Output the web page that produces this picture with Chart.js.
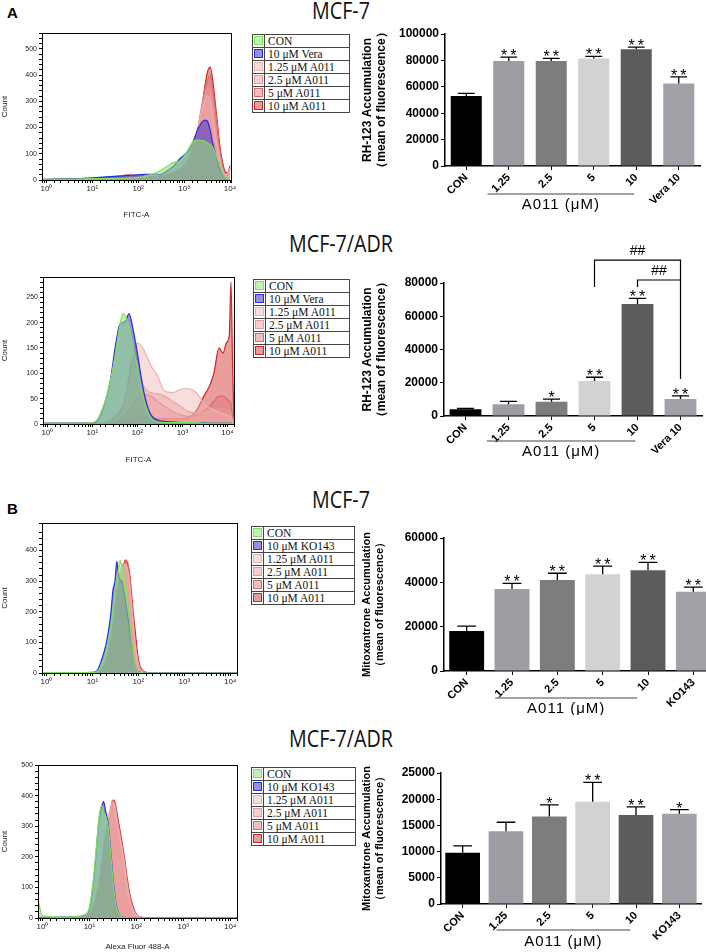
<!DOCTYPE html>
<html>
<head>
<meta charset="utf-8">
<script src="https://cdn.jsdelivr.net/npm/chart.js@4.4.1/dist/chart.umd.min.js"></script>
<style>
  html, body { margin:0; padding:0; background:#fff; }
  body { position:relative; width:706px; height:952px; overflow:hidden; font-family:Arial, "Liberation Sans", sans-serif; }
  canvas, .lbl, .ttl, .legend { position:absolute; }
  .lbl { font:bold 15px Arial, "Liberation Sans", sans-serif; line-height:15px; left:7px; }
  .ttl { left:0; width:682px; text-align:center; font-family:"Open Sans", sans-serif; font-size:24px; line-height:24px; color:#111; transform:scaleX(0.82); transform-origin:341px 0; }
  .legend { border:1px solid #444; font-family:"Liberation Serif", "Times New Roman", serif; font-size:11.5px; color:#111; background:#fff; }
  .legend .row { display:flex; height:12px; line-height:12px; border-top:1px solid #444; }
  .legend .row:first-child { border-top:none; }
  .legend .sw { width:11px; flex:none; border-right:1px solid #444; position:relative; }
  .legend .sw span { position:absolute; left:1px; top:1px; width:7px; height:7px; border:1px solid; }
  .legend .tx { padding-left:3px; white-space:nowrap; }
</style>
</head>
<body>
<div class="lbl" style="top:5px">A</div>
<div class="lbl" style="top:501px">B</div>
<div class="ttl" style="top:-2px">MCF-7</div>
<div class="ttl" style="top:231px">MCF-7/ADR</div>
<div class="ttl" style="top:487px">MCF-7</div>
<div class="ttl" style="top:726px">MCF-7/ADR</div>

<canvas id="h1" width="245" height="195" style="left:0;top:25px"></canvas>
<canvas id="h2" width="245" height="200" style="left:0;top:265px"></canvas>
<canvas id="h3" width="245" height="190" style="left:0;top:510px"></canvas>
<canvas id="h4" width="245" height="197" style="left:0;top:755px"></canvas>

<div class="legend" id="l1" style="left:252px;top:34px;width:96px"></div>
<div class="legend" id="l2" style="left:253px;top:279px;width:95px"></div>
<div class="legend" id="l3" style="left:251px;top:526px;width:102px"></div>
<div class="legend" id="l4" style="left:251px;top:767px;width:103px"></div>

<canvas id="b1" width="356" height="200" style="left:350px;top:20px"></canvas>
<canvas id="b2" width="356" height="225" style="left:350px;top:240px"></canvas>
<canvas id="b3" width="370" height="235" style="left:350px;top:480px"></canvas>
<canvas id="b4" width="356" height="232" style="left:350px;top:720px"></canvas>

<script>
// ---------- histogram data (counts) ----------
var histTickValues = [1, 10, 100, 1000, 10000];
var histTickLabels = ['10⁰', '10¹', '10²', '10³', '10⁴'];

var namesA = ['CON', '10 μM Vera', '1.25 μM A011', '2.5 μM A011', '5 μM A011', '10 μM A011'];
var namesB = ['CON', '10 μM KO143', '1.25 μM A011', '2.5 μM A011', '5 μM A011', '10 μM A011'];

// MCF-7, RH-123
var fluor1 = [0.8, 2, 5, 10, 20, 40, 70, 100, 150, 200, 300, 450, 600, 800, 1000, 1300, 1600, 2000, 2400, 2800, 3200, 3700, 4200, 5000, 6000, 7000, 8000, 9000, 10000];
var h1Con  = [3, 3, 4, 5, 5, 6, 8, 10, 15, 22, 35, 55, 68, 72, 90, 125, 148, 152, 150, 148, 140, 135, 125, 95, 55, 25, 8, 3, 0];
var h1Vera = [2, 4, 5, 8, 12, 15, 18, 20, 22, 22, 22, 38, 55, 80, 95, 115, 150, 195, 218, 228, 225, 190, 140, 90, 40, 18, 5, 2, 0];
var h1A125 = [0, 3, 4, 5, 8, 14, 20, 16, 12, 12, 14, 20, 28, 40, 55, 80, 120, 190, 260, 300, 320, 300, 240, 150, 70, 30, 20, 25, 40];
var h1A25  = [0, 3, 4, 5, 8, 15, 22, 18, 13, 12, 14, 20, 28, 40, 55, 82, 125, 195, 270, 320, 350, 340, 280, 180, 85, 35, 22, 25, 45];
var h1A5   = [0, 3, 4, 5, 9, 15, 22, 18, 13, 12, 14, 20, 28, 40, 55, 85, 130, 200, 280, 340, 380, 400, 350, 240, 120, 50, 25, 24, 45];
var h1A10  = [0, 3, 4, 5, 9, 15, 20, 16, 12, 12, 14, 20, 28, 40, 50, 75, 120, 180, 260, 350, 410, 430, 380, 260, 130, 60, 30, 28, 55];

// MCF-7/ADR, RH-123
var fluor2 = [0.8, 3, 8, 12, 18, 25, 32, 40, 48, 56, 65, 75, 85, 100, 120, 150, 200, 280, 400, 600, 900, 1300, 2000, 3000, 4000, 5000, 6500, 8000, 9500, 11000, 12000, 13000, 14000];
var h2Con  = [2, 2, 2, 6, 38, 85, 135, 190, 218, 210, 195, 165, 140, 113, 75, 38, 12, 4, 3, 3, 3, 3, 3, 2, 2, 2, 2, 2, 2, 2, 2, 1, 0];
var h2Vera = [2, 2, 2, 3, 35, 85, 150, 195, 200, 205, 218, 200, 175, 140, 95, 50, 18, 8, 5, 4, 3, 3, 3, 3, 2, 2, 2, 2, 2, 2, 2, 1, 0];
var h2A125 = [0, 0, 0, 1, 3, 8, 15, 25, 40, 60, 85, 115, 145, 160, 155, 140, 115, 95, 65, 62, 68, 70, 62, 42, 32, 28, 24, 20, 18, 16, 12, 5, 0];
var h2A25  = [0, 0, 0, 1, 3, 6, 12, 20, 35, 60, 95, 125, 130, 110, 85, 70, 62, 60, 55, 45, 35, 25, 22, 22, 25, 28, 30, 30, 28, 25, 20, 8, 0];
var h2A5   = [0, 0, 0, 0, 1, 2, 4, 8, 14, 20, 28, 35, 42, 50, 55, 58, 55, 45, 35, 25, 18, 15, 18, 25, 35, 45, 55, 55, 50, 45, 40, 15, 0];
var h2A10  = [0, 0, 0, 0, 0, 1, 2, 3, 5, 7, 9, 10, 12, 14, 15, 14, 12, 10, 10, 10, 10, 12, 25, 55, 75, 100, 150, 140, 160, 175, 280, 120, 0];

// MCF-7, mitoxantrone
var fluor3 = [0.8, 5, 10, 12, 14, 16, 18, 20, 22, 25, 28, 31, 34, 37, 40, 44, 48, 53, 58, 64, 70, 77, 85, 95, 105, 120, 140, 200, 1000, 14000];
var h3Con  = [1, 1, 1, 3, 12, 30, 50, 75, 105, 150, 210, 270, 310, 340, 368, 350, 330, 290, 240, 180, 120, 65, 25, 8, 3, 1, 0, 0, 0, 0];
var h3KO   = [1, 1, 2, 5, 20, 45, 70, 96, 130, 190, 270, 300, 365, 320, 305, 300, 270, 230, 190, 150, 100, 55, 22, 8, 3, 1, 0, 0, 0, 0];
var h3A125 = [0, 0, 1, 2, 6, 15, 28, 45, 70, 110, 160, 220, 265, 300, 330, 345, 350, 355, 340, 300, 230, 160, 90, 40, 15, 5, 1, 0, 0, 0];
var h3A25  = [0, 0, 1, 2, 5, 13, 25, 42, 65, 100, 150, 205, 255, 295, 325, 345, 360, 350, 330, 290, 230, 165, 95, 45, 18, 6, 1, 0, 0, 0];
var h3A5   = [0, 0, 0, 1, 4, 11, 22, 38, 60, 95, 140, 195, 245, 285, 320, 340, 350, 360, 365, 320, 250, 180, 110, 55, 20, 7, 2, 0, 0, 0];
var h3A10  = [0, 0, 0, 1, 4, 10, 20, 35, 55, 90, 135, 190, 240, 280, 315, 340, 355, 370, 355, 330, 270, 200, 140, 70, 30, 10, 3, 0, 0, 0];

// MCF-7/ADR, mitoxantrone
var fluor4 = [0.8, 1, 3, 6, 8, 10, 12, 14, 16, 18, 20, 22, 25, 28, 31, 34, 37, 41, 45, 50, 56, 63, 72, 85, 100, 120, 200, 1000, 14000];
var h4Con  = [60, 8, 3, 5, 10, 35, 120, 230, 330, 370, 345, 335, 300, 220, 140, 80, 40, 18, 8, 4, 2, 1, 0, 0, 0, 0, 0, 0, 0];
var h4KO   = [2, 2, 3, 5, 10, 30, 110, 220, 320, 360, 380, 350, 310, 230, 150, 90, 45, 20, 8, 4, 2, 1, 0, 0, 0, 0, 0, 0, 0];
var h4A125 = [0, 0, 1, 3, 6, 12, 35, 70, 120, 170, 230, 270, 320, 360, 375, 370, 330, 290, 260, 220, 170, 110, 60, 25, 8, 3, 0, 0, 0];
var h4A25  = [0, 0, 1, 3, 6, 12, 30, 65, 110, 160, 220, 265, 315, 355, 380, 375, 340, 300, 265, 225, 175, 115, 65, 28, 9, 3, 0, 0, 0];
var h4A5   = [0, 0, 1, 2, 5, 10, 28, 60, 100, 150, 210, 255, 305, 350, 385, 380, 350, 310, 275, 235, 185, 125, 72, 32, 10, 3, 0, 0, 0];
var h4A10  = [0, 0, 1, 2, 5, 10, 25, 55, 95, 140, 200, 245, 300, 345, 375, 385, 360, 320, 285, 245, 195, 135, 80, 38, 12, 4, 0, 0, 0];

// ---------- bar chart data ----------
var barLabelsA = ['CON', '1.25', '2.5', '5', '10', 'Vera 10'];
var barLabelsB = ['CON', '1.25', '2.5', '5', '10', 'KO143'];
var barColors  = ['#000000', '#9d9da3', '#7d7d7f', '#d2d2d2', '#5c5c5e', '#a1a1a8'];

var rh7Mean   = [53000, 79500, 79500, 81500, 88500, 62500];
var rh7Err    = [2000, 3000, 2000, 1500, 1500, 5000];
var rh7Stars  = ['', '**', '**', '**', '**', '**'];

var rhAdrMean  = [4000, 7000, 8600, 21000, 67400, 10200];
var rhAdrErr   = [500, 1800, 1600, 2300, 3400, 1900];
var rhAdrStars = ['', '', '*', '**', '**', '**'];

var mx7Mean   = [18000, 37000, 41100, 43700, 45500, 35700];
var mx7Err    = [2200, 2500, 3000, 3600, 3500, 2100];
var mx7Stars  = ['', '**', '**', '**', '**', '**'];

var mxAdrMean  = [9800, 13900, 16700, 19500, 17000, 17200];
var mxAdrErr   = [1300, 1700, 2200, 3700, 1550, 800];
var mxAdrStars = ['', '', '*', '**', '**', '*'];

// comparison brackets (MCF-7/ADR, RH-123): from bar, to bar, level, left drop, right drop
var bracketFrom  = [3, 4];
var bracketTo    = [5, 5];
var bracketLevel = [93800, 81800];
var bracketLeft  = [77600, 77600];
var bracketRight = [22250, 81800];
var bracketText  = ['##', '##'];

// ---------- styles ----------
var histFill = ['rgba(140,232,118,0.55)', 'rgba(70,50,205,0.55)', 'rgba(240,180,180,0.45)', 'rgba(232,148,148,0.45)', 'rgba(224,112,112,0.45)', 'rgba(212,60,60,0.50)'];
var histLine = ['#80e05c', '#2b2be0', '#eeb0b0', '#e49a9a', '#d86c6c', '#d42222'];

function makeLegend(id, names) {
  var el = document.getElementById(id);
  names.forEach(function (n, i) {
    var row = document.createElement('div');
    row.className = 'row';
    row.innerHTML = '<div class="sw"><span style="background:' + histFill[i] + ';border-color:' + histLine[i] + '"></span></div><div class="tx">' + n + '</div>';
    el.appendChild(row);
  });
}
makeLegend('l1', namesA);
makeLegend('l2', namesA);
makeLegend('l3', namesB);
makeLegend('l4', namesB);

var frame = {
  id: 'frame',
  afterDraw: function (chart) {
    var a = chart.chartArea, ctx = chart.ctx;
    ctx.save();
    ctx.strokeStyle = '#000';
    ctx.lineWidth = 1;
    ctx.strokeRect(a.left + 0.5, a.top + 0.5, a.right - a.left, a.bottom - a.top);
    ctx.restore();
  }
};

function histChart(id, grid, counts, names, yMax, labelStep, minorStep, xMax, xTitle, yWidth, xHeight, pad) {
  return new Chart(document.getElementById(id), {
    type: 'line',
    data: {
      datasets: counts.map(function (c, i) {
        return {
          label: names[i],
          data: grid.map(function (g, k) { return { x: g, y: c[k] }; }),
          fill: 'origin',
          backgroundColor: histFill[i],
          borderColor: histLine[i],
          borderWidth: 1.2,
          pointRadius: 0,
          cubicInterpolationMode: 'monotone',
          order: i
        };
      })
    },
    options: {
      responsive: false,
      animation: false,
      layout: { padding: pad },
      plugins: { legend: { display: false }, tooltip: { enabled: false } },
      scales: {
        x: {
          type: 'logarithmic', min: 0.8, max: xMax,
          afterFit: function (s) { s.height = xHeight; },
          border: { color: '#000', width: 1 },
          grid: { drawOnChartArea: false, drawTicks: true, tickLength: 3, color: '#000' },
          ticks: {
            autoSkip: false, maxRotation: 0, padding: 1, color: '#222', font: { size: 8 },
            callback: function (v) {
              var k = histTickValues.findIndex(function (t) { return Math.abs(t - v) < t * 1e-6; });
              return k >= 0 ? histTickLabels[k] : '';
            }
          },
          title: { display: !!xTitle, text: xTitle, color: '#222', font: { size: 8 }, padding: 0 }
        },
        y: {
          min: 0, max: yMax,
          afterFit: function (s) { s.width = yWidth; },
          border: { color: '#000', width: 1 },
          grid: { drawOnChartArea: false, tickLength: 3, color: '#000' },
          ticks: {
            stepSize: minorStep, autoSkip: false, padding: 2, color: '#222', font: { size: 7 },
            callback: function (v) { return v % labelStep === 0 ? String(v) : ''; }
          },
          title: { display: true, text: 'Count', color: '#222', font: { size: 8 }, padding: 0 }
        }
      }
    },
    plugins: [frame]
  });
}

histChart('h1', fluor1, [h1Con, h1Vera, h1A125, h1A25, h1A5, h1A10], namesA, 560, 100, 20, 10500, 'FITC-A', 42, 40, { top: 8, right: 14, left: 0, bottom: 0 });
histChart('h2', fluor2, [h2Con, h2Vera, h2A125, h2A25, h2A5, h2A10], namesA, 290, 50, 10, 14000, 'FITC-A', 43, 41, { top: 12, right: 11, left: 0, bottom: 0 });
histChart('h3', fluor3, [h3Con, h3KO, h3A125, h3A25, h3A5, h3A10], namesB, 490, 100, 20, 14000, '', 42, 27, { top: 13, right: 8, left: 0, bottom: 0 });
histChart('h4', fluor4, [h4Con, h4KO, h4A125, h4A25, h4A5, h4A10], namesB, 500, 100, 20, 14000, 'Alexa Fluor 488-A', 38, 34, { top: 10, right: 8, left: 0, bottom: 0 });

// error bars, significance marks, group line and brackets
var barExtras = {
  id: 'barExtras',
  afterDatasetsDraw: function (chart, args, o) {
    var ctx = chart.ctx, xs = chart.scales.x, ys = chart.scales.y;
    var meta = chart.getDatasetMeta(0);
    var vals = chart.data.datasets[0].data;
    ctx.save();
    ctx.strokeStyle = '#000';
    ctx.fillStyle = '#000';
    ctx.lineWidth = 1.3;
    meta.data.forEach(function (bar, i) {
      var top = ys.getPixelForValue(vals[i]);
      var eTop = ys.getPixelForValue(vals[i] + o.errors[i]);
      var half = bar.width * 0.27;
      ctx.beginPath();
      ctx.moveTo(bar.x, top); ctx.lineTo(bar.x, eTop);
      ctx.moveTo(bar.x - half, eTop); ctx.lineTo(bar.x + half, eTop);
      ctx.stroke();
      if (o.stars[i]) {
        ctx.font = '16px Arial';
        ctx.letterSpacing = '3px';
        ctx.textAlign = 'center';
        ctx.textBaseline = 'alphabetic';
        ctx.fillText(o.stars[i], bar.x + 1.5, eTop + 4);
        ctx.letterSpacing = '0px';
      }
    });
    // group underline and label
    var gy = chart.chartArea.bottom + o.groupLine;
    var gx0 = xs.getPixelForValue(o.groupSpan[0]), gx1 = xs.getPixelForValue(o.groupSpan[1]);
    ctx.lineWidth = 1;
    ctx.strokeStyle = '#444';
    ctx.beginPath(); ctx.moveTo(gx0, gy); ctx.lineTo(gx1, gy); ctx.stroke();
    ctx.font = '15px Arial';
    ctx.letterSpacing = '1px';
    ctx.textAlign = 'center';
    ctx.textBaseline = 'middle';
    ctx.fillText('A011 (μM)', (gx0 + gx1) / 2, chart.chartArea.bottom + o.groupText);
    ctx.letterSpacing = '0px';
    // brackets
    if (o.brackets) {
      ctx.strokeStyle = '#000';
      ctx.lineWidth = 1.2;
      o.brackets.from.forEach(function (f, k) {
        var xa = xs.getPixelForValue(f), xb = xs.getPixelForValue(o.brackets.to[k]);
        var yl = ys.getPixelForValue(o.brackets.level[k]);
        ctx.beginPath();
        ctx.moveTo(xa, ys.getPixelForValue(o.brackets.left[k]));
        ctx.lineTo(xa, yl); ctx.lineTo(xb, yl);
        ctx.lineTo(xb, ys.getPixelForValue(o.brackets.right[k]));
        ctx.stroke();
        ctx.font = '14px Arial';
        ctx.textAlign = 'center';
        ctx.textBaseline = 'bottom';
        ctx.fillText(o.brackets.text[k], (xa + xb) / 2, yl - 2);
      });
    }
    ctx.restore();
  }
};

function barChart(id, labels, vals, errs, stars, yMax, yStep, yTitle, titleSize, yWidth, xHeight, pad, barPct, groupSpan, groupLine, groupText, brackets) {
  return new Chart(document.getElementById(id), {
    type: 'bar',
    data: {
      labels: labels,
      datasets: [{ data: vals, backgroundColor: barColors, borderWidth: 0, barPercentage: barPct, categoryPercentage: 1 }]
    },
    options: {
      responsive: false,
      animation: false,
      layout: { padding: pad },
      plugins: {
        legend: { display: false }, tooltip: { enabled: false },
        barExtras: { errors: errs, stars: stars, groupSpan: groupSpan, groupLine: groupLine, groupText: groupText, brackets: brackets }
      },
      scales: {
        x: {
          afterFit: function (s) { s.height = xHeight; },
          border: { color: '#000', width: 1.5 },
          grid: { drawOnChartArea: false, offset: false, tickLength: 4, color: '#000' },
          ticks: { minRotation: 45, maxRotation: 45, padding: 1, color: '#000', font: { size: 11, weight: 'bold' } }
        },
        y: {
          min: 0, max: yMax,
          afterFit: function (s) { s.width = yWidth; },
          border: { color: '#000', width: 1.5 },
          grid: { drawOnChartArea: false, tickLength: 4, color: '#000' },
          ticks: {
            stepSize: yStep, padding: 2, color: '#000', font: { size: 12, weight: 'bold' },
            callback: function (v) { return String(v); }
          },
          title: { display: true, text: yTitle, color: '#000', font: { size: titleSize, weight: 'bold' }, padding: 0 }
        }
      }
    },
    plugins: [barExtras]
  });
}

var brk = { from: bracketFrom, to: bracketTo, level: bracketLevel, left: bracketLeft, right: bracketRight, text: bracketText };
var rhTitle = ['RH-123 Accumulation', '（mean of fluorescence）'];
var mxTitle = ['Mitoxantrone Accumulation', '（mean of fluorescence）'];

barChart('b1', barLabelsA, rh7Mean, rh7Err, rh7Stars, 100000, 20000, rhTitle, 12, 85, 54, { top: 14, right: 6, left: 10, bottom: 0 }, 0.73, [0.5, 3.95], 28, 39, null);
barChart('b2', barLabelsA, rhAdrMean, rhAdrErr, rhAdrStars, 80000, 20000, rhTitle, 12, 84, 49, { top: 43, right: 4, left: 10, bottom: 0 }, 0.74, [0.5, 3.95], 25, 36, brk);
barChart('b3', barLabelsB, mx7Mean, mx7Err, mx7Stars, 60000, 20000, mxTitle, 11, 84, 44, { top: 58, right: 4, left: 10, bottom: 0 }, 0.77, [0.63, 3.76], 27, 38, null);
barChart('b4', barLabelsB, mxAdrMean, mxAdrErr, mxAdrStars, 25000, 5000, mxTitle, 11, 81, 48, { top: 53, right: 5, left: 10, bottom: 0 }, 0.8, [0.78, 3.87], 26, 38, null);
</script>
</body>
</html>
